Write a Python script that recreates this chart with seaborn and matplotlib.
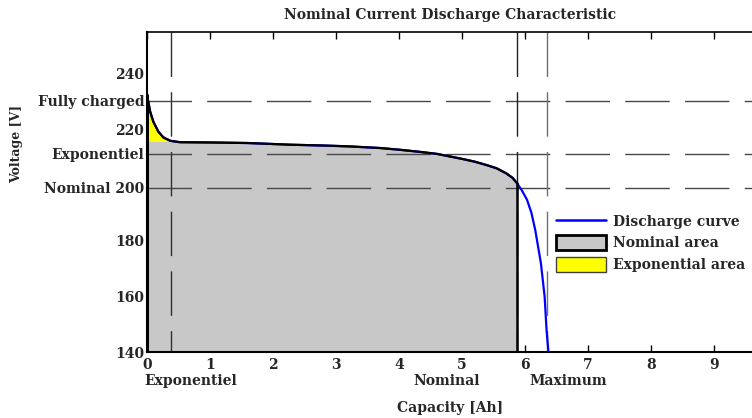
import numpy as np
import matplotlib
matplotlib.use("Agg")
import matplotlib.pyplot as plt
import matplotlib.transforms as mtrans
from matplotlib.lines import Line2D
from matplotlib.patches import Patch
import seaborn as sns
import pandas as pd

# ---- data ----
capacity = [0.0, 0.05, 0.10, 0.18, 0.26, 0.37, 0.52, 1.0, 1.6, 2.27, 2.8, 3.2,
            3.7, 4.0, 4.3, 4.6, 4.8, 5.0, 5.2, 5.4, 5.55, 5.7, 5.8, 5.87,
            5.95, 6.03, 6.10, 6.16, 6.25, 6.31, 6.34, 6.37]
voltage = [232.4, 226.4, 222.8, 219.2, 217.1, 215.9, 215.4, 215.3, 215.1, 214.5, 214.2, 213.9,
           213.3, 212.7, 212.0, 211.2, 210.3, 209.4, 208.4, 207.1, 206.0, 204.2, 202.6, 200.7,
           198.0, 194.7, 190.0, 183.9, 172.0, 159.8, 147.9, 140.0]

v_full = 230.3
v_exp = 211.2
v_nom = 199.0
v_exp_area = 215.8
q_exp = 0.38
q_nom = 5.87
q_max = 6.35

y_tick_vals = [140, 160, 180, v_nom, v_exp, 220, v_full, 240]
y_tick_labels = ["140", "160", "180", "Nominal 200", "Exponentiel", "220", "Fully charged", "240"]
x_tick_vals = [0, 1, 2, 3, 4, 5, 6, 7, 8, 9]
x_marker_labels = [("Exponentiel", 0.70), ("Nominal", 4.75), ("Maximum", 6.68)]
legend_labels = ["Discharge curve", "Nominal area", "Exponential area"]

title = "Nominal Current Discharge Characteristic"
xlabel = "Capacity [Ah]"
ylabel = "Voltage [V]"

# ---- drawing ----
sns.set_theme(style="white")
plt.rcParams["font.family"] = ["DejaVu Serif"]
plt.rcParams["font.weight"] = "bold"

W, H = 752, 418
fig = plt.figure(figsize=(W / 100, H / 100), dpi=100)
ax = fig.add_axes([147 / W, 1 - 352 / H, (W - 147) / W, (352 - 32) / H])

df = pd.DataFrame({"capacity": capacity, "voltage": voltage})
cap = np.array(capacity)
volt = np.array(voltage)

# nominal (gray) area
mask_nom = cap <= q_nom
top_nom = np.where(cap <= q_exp, np.minimum(volt, v_exp_area), volt)
ax.fill_between(cap[mask_nom], 140, top_nom[mask_nom], color="#c8c8c8", lw=0, zorder=1)
# exponential (yellow) area
mask_exp = cap <= q_exp
ax.fill_between(cap[mask_exp], v_exp_area, volt[mask_exp],
                where=volt[mask_exp] >= v_exp_area, interpolate=True,
                color="#ffff00", lw=0, zorder=1.1)

dash = (32, 11)
for v in [v_full, v_exp, v_nom]:
    ax.plot([0, 9.6], [v, v], color="#484848", lw=1, dashes=dash, zorder=2)
for q, c in [(q_exp, "#303030"), (q_nom, "#202020"), (q_max, "#707070")]:
    ax.plot([q, q], [255, 140], color=c, lw=1, dashes=dash, zorder=2)

sns.lineplot(data=df, x="capacity", y="voltage", ax=ax, color="#0000ff", lw=1.6,
             sort=False, estimator=None, zorder=3)
df_nom = df[df["capacity"] <= q_nom]
sns.lineplot(data=df_nom, x="capacity", y="voltage", ax=ax, color="black", lw=1.6,
             sort=False, estimator=None, zorder=4)
ax.plot([0, 0], [140, voltage[0]], color="black", lw=2.2, zorder=4)
ax.plot([q_nom, q_nom], [140, voltage[capacity.index(q_nom)]], color="black", lw=1.8, zorder=4)

ax.set_xlim(0, 9.6)
ax.set_ylim(140, 255)
ax.set_xticks(x_tick_vals)
ax.set_xticklabels([str(v) for v in x_tick_vals])
ax.set_yticks(y_tick_vals)
ax.set_yticklabels(y_tick_labels)
ax.tick_params(axis="both", direction="in", length=5, width=1, color="black",
               labelsize=10, labelcolor="#262626", pad=3)
ax.tick_params(axis="x", top=True, bottom=True, pad=4)
ax.tick_params(axis="y", left=True, length=0, pad=2)
for lab in ax.get_xticklabels() + ax.get_yticklabels():
    lab.set_fontweight("bold")
ax.set_xlabel("")
ax.set_ylabel("")

for sp in ["left", "bottom", "top"]:
    ax.spines[sp].set_visible(True)
    ax.spines[sp].set_color("black")
ax.spines["left"].set_linewidth(1.5)
ax.spines["bottom"].set_linewidth(1.5)
ax.spines["top"].set_linewidth(1.2)
ax.spines["right"].set_visible(False)

trans = mtrans.blended_transform_factory(ax.transData, fig.transFigure)
for txt, xq in x_marker_labels:
    ax.text(xq, 1 - 381 / H, txt, transform=trans, ha="center", va="center",
            fontsize=10, fontweight="bold", color="#262626")

fig.text(450 / W, 1 - 408 / H, xlabel, ha="center", va="center", fontsize=10,
         fontweight="bold", color="#262626")
fig.text(17 / W, 1 - 144 / H, ylabel, ha="center", va="center", rotation=90,
         fontsize=9, fontweight="bold", color="#262626")
fig.text(450 / W, 1 - 15 / H, title, ha="center", va="center", fontsize=10,
         fontweight="bold", color="#262626")

handles = [Line2D([0], [0], color="#0000ff", lw=1.8),
           Patch(facecolor="#c8c8c8", edgecolor="black", lw=2),
           Patch(facecolor="#ffff00", edgecolor="#404040", lw=1)]
leg = ax.legend(handles, legend_labels, loc="upper left",
                bbox_to_anchor=(553 / W, 1 - 211 / H), bbox_transform=fig.transFigure,
                frameon=False, fontsize=10, handlelength=3.6, handleheight=1.3,
                labelspacing=0.45, handletextpad=0.5, borderaxespad=0, borderpad=0.2)
for t in leg.get_texts():
    t.set_fontweight("bold")
    t.set_color("#262626")

fig.savefig("out.png", dpi=100)
